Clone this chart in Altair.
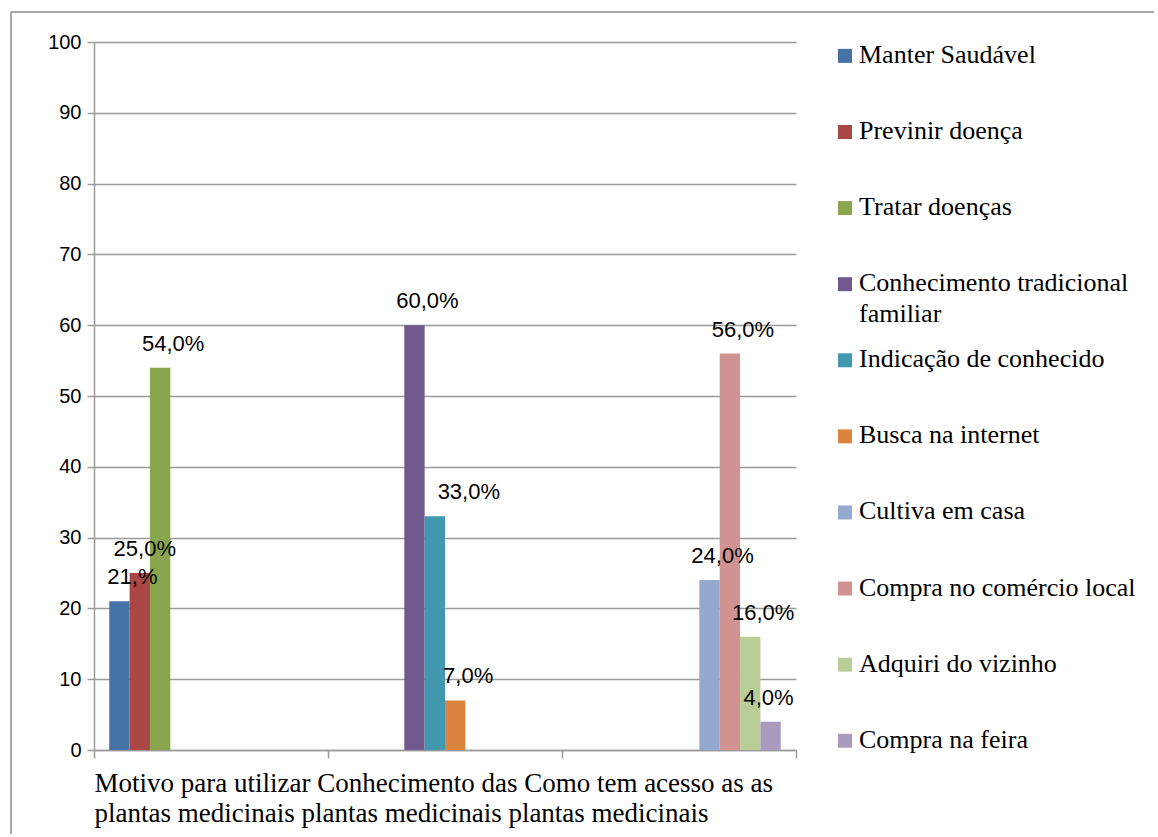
import altair as alt
import pandas as pd

# Survey results: three questions, each with its own set of answers
categories = [
    "Motivo para utilizar plantas medicinais",
    "Conhecimento das plantas medicinais",
    "Como tem acesso as plantas medicinais",
]
series = [
    "Manter Saudável",
    "Previnir doença",
    "Tratar doenças",
    "Conhecimento tradicional familiar",
    "Indicação de conhecido",
    "Busca na internet",
    "Cultiva em casa",
    "Compra no comércio local",
    "Adquiri do vizinho",
    "Compra na feira",
]
series_category = [0, 0, 0, 1, 1, 1, 2, 2, 2, 2]
values = [21, 25, 54, 60, 33, 7, 24, 56, 16, 4]
value_labels = ["21,%", "25,0%", "54,0%", "60,0%", "33,0%", "7,0%",
                "24,0%", "56,0%", "16,0%", "4,0%"]
legend_labels = [
    "Manter Saudável",
    "Previnir doença",
    "Tratar doenças",
    "Conhecimento tradicional\nfamiliar",
    "Indicação de conhecido",
    "Busca na internet",
    "Cultiva em casa",
    "Compra no comércio local",
    "Adquiri do vizinho",
    "Compra na feira",
]
colors = ["#4572A7", "#AA4643", "#89A54E", "#71588F", "#4198AF",
          "#DB843D", "#93A9CF", "#D19392", "#B9CD96", "#A99BBD"]
y_ticks = list(range(0, 101, 10))
axis_title_lines = [
    "\u00a0Motivo para utilizar Conhecimento das Como tem acesso as as",
    "plantas medicinais plantas medicinais plantas medicinais",
]

SANS = "Liberation Sans, Arial, sans-serif"
SERIF = "Times New Roman, Liberation Serif, Tinos, DejaVu Serif, serif"
GRID = "#9a9a9a"

df = pd.DataFrame({
    "categoria": [categories[i] for i in series_category],
    "serie": series,
    "valor": values,
    "rotulo": value_labels,
})
legend_df = pd.DataFrame({"serie": series, "texto": legend_labels})

color_scale = alt.Scale(domain=series, range=colors)

x_enc = alt.X(
    "categoria:N",
    sort=categories,
    scale=alt.Scale(paddingInner=0, paddingOuter=0),
    axis=alt.Axis(
        labels=False,
        tickBand="extent",
        tickSize=8,
        tickColor=GRID,
        domainColor=GRID,
        domainWidth=1.5,
        tickWidth=1.5,
        grid=False,
        title=axis_title_lines,
        titleFont=SERIF,
        titleFontSize=27,
        titleFontWeight="normal",
        titleColor="#000000",
        titleAnchor="start",
        titleAlign="left",
        titleBaseline="top",
        titleLineHeight=30,
        titlePadding=12,
    ),
)
xoff_enc = alt.XOffset(
    "serie:N",
    sort=series,
    scale=alt.Scale(domain=series, paddingInner=0, paddingOuter=0.75),
)
y_enc = alt.Y(
    "valor:Q",
    scale=alt.Scale(domain=[0, 100], nice=False),
    axis=alt.Axis(
        values=y_ticks,
        title=None,
        grid=True,
        gridColor=GRID,
        gridWidth=1.5,
        domainColor=GRID,
        domainWidth=1.5,
        tickColor=GRID,
        tickWidth=1.5,
        tickSize=7,
        labelPadding=6,
        labelFont=SANS,
        labelFontSize=20,
        labelColor="#000000",
    ),
)

base = alt.Chart(df)

bars = base.mark_bar().encode(
    x=x_enc,
    xOffset=xoff_enc,
    y=y_enc,
    color=alt.Color("serie:N", scale=color_scale, legend=None),
)

# value labels sit above each bar, nudged to the right
label_shift = {"Indicação de conhecido": 34, "Compra na feira": -2, "Previnir doença": 5}
shift_groups = {}
for s in series:
    shift_groups.setdefault(label_shift.get(s, 13), []).append(s)

label_layers = []
for shift, members in shift_groups.items():
    label_layers.append(
        base.transform_filter(alt.FieldOneOfPredicate(field="serie", oneOf=members))
        .mark_text(font=SANS, fontSize=22, color="#000000", baseline="middle",
                   dx=shift, dy=-24)
        .encode(x=x_enc, xOffset=xoff_enc, y=y_enc, text="rotulo:N")
    )

# thin frame drawn around the figure (top and left edges)
frame_df = pd.DataFrame({"k": [0]})
frame_left = alt.Chart(frame_df).mark_rule(color="#8c8c8c", strokeWidth=1.5).encode(
    x=alt.value(-83), y=alt.value(-30), y2=alt.value(792)
)
frame_top = alt.Chart(frame_df).mark_rule(color="#8c8c8c", strokeWidth=1.5).encode(
    x=alt.value(-83), x2=alt.value(1060), y=alt.value(-30)
)

plot = alt.layer(bars, *label_layers, frame_left, frame_top).properties(
    width=702, height=708
)

legend_y = alt.Y(
    "serie:N",
    sort=series,
    scale=alt.Scale(type="point", padding=0.152, align=0.6),
    axis=None,
)
legend_marks = alt.Chart(legend_df).mark_square(size=196, opacity=1).encode(
    x=alt.value(14),
    y=legend_y,
    color=alt.Color("serie:N", scale=color_scale, legend=None),
)
legend_text = alt.Chart(legend_df).mark_text(
    align="left", baseline="alphabetic", dy=7, font=SERIF, fontSize=26,
    color="#000000", lineBreak="\n", lineHeight=31,
).encode(x=alt.value(28), y=legend_y, text="texto:N")

legend_panel = alt.layer(legend_marks, legend_text).properties(width=300, height=708)

chart = (
    alt.hconcat(plot, legend_panel, spacing=35, bounds="flush")
    .properties(
        padding={"left": 10, "top": 11, "right": 0, "bottom": 0},
        background="#ffffff",
    )
    .configure_view(stroke="transparent", strokeWidth=0)
)

chart.save("out.html", embed_options={"renderer": "svg", "actions": False})
